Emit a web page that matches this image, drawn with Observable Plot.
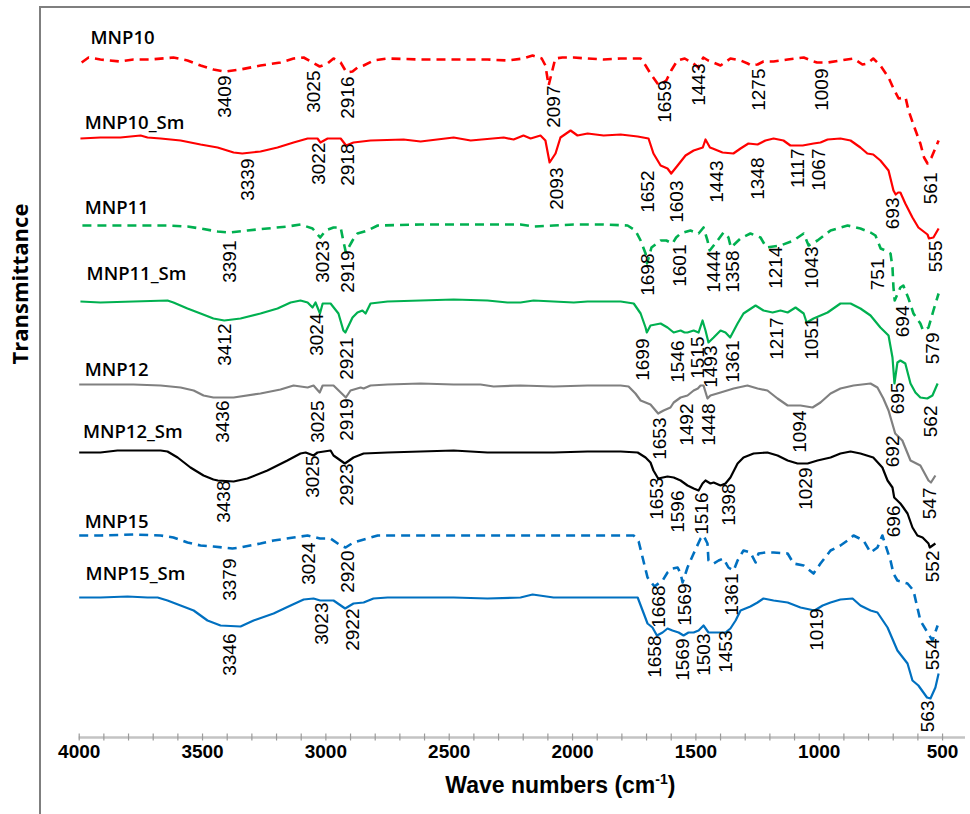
<!DOCTYPE html>
<html>
<head>
<meta charset="utf-8">
<script src="https://cdn.jsdelivr.net/npm/d3@7"></script>
<script src="https://cdn.jsdelivr.net/npm/@observablehq/plot@0.6"></script>
<style>
  html, body { margin: 0; padding: 0; background: #fff; }
  #chart { position: relative; width: 970px; height: 814px; }
  #chart .border {
    position: absolute; left: 39px; top: 6px; right: 0; bottom: 0;
    border-left: 2px solid #7f7f7f; border-top: 2px solid #7f7f7f;
    pointer-events: none;
  }
  #chart svg { display: block; }
</style>
</head>
<body>
<div id="chart"><div class="border"></div></div>
<script>
// FTIR spectra, stacked with vertical offsets: [wavenumber (cm-1), transmittance (a.u.)]
const mnp10 = [[3990,675],[3962,680],[3914,678],[3833,676],[3780,678],[3711,678],[3618,680],[3561,677],[3508,672],[3456,668],[3409,666],[3346,668],[3265,672],[3184,675],[3131,679],[3090,680],[3054,675],[3025,671],[2993,674],[2969,679],[2940,675],[2916,665],[2892,666],[2872,670],[2847,672],[2807,677],[2750,679],[2616,678],[2482,678],[2345,678],[2264,677],[2199,679],[2162,682],[2125,679],[2110,672],[2097,652],[2085,664],[2070,679],[2041,680],[1995,680],[1939,679],[1874,678],[1805,679],[1724,679],[1704,672],[1684,664],[1650,652],[1620,657],[1600,667],[1575,677],[1545,679],[1510,674],[1490,670],[1470,680],[1450,677],[1430,675],[1400,672],[1360,679],[1319,677],[1290,674],[1275,672],[1250,673],[1226,676],[1185,676],[1128,678],[1063,680],[1023,676],[1009,675],[966,675],[914,677],[861,679],[825,673],[805,674],[781,679],[752,672],[719,660],[699,649],[678,639],[650,640],[638,627],[617,612],[590,594],[575,580],[561,574],[545,580],[516,597]];

const mnp10Sm = [[3995,599],[3914,600],[3833,600],[3751,602],[3723,600],[3670,599],[3589,597],[3508,593],[3439,590],[3374,585],[3339,584],[3265,586],[3196,590],[3131,595],[3074,599],[3034,599],[3022,595],[2993,599],[2940,599],[2918,592],[2888,595],[2819,597],[2685,598],[2616,596],[2482,600],[2413,597],[2279,600],[2239,598],[2199,602],[2170,599],[2130,602],[2110,597],[2093,575],[2069,584],[2049,600],[2008,607],[1980,602],[1939,604],[1874,602],[1805,603],[1736,601],[1692,599],[1672,584],[1643,572],[1615,569],[1600,564],[1574,572],[1542,582],[1509,587],[1472,590],[1461,598],[1443,590],[1432,589],[1392,585],[1348,584],[1319,589],[1287,594],[1250,593],[1218,597],[1185,599],[1145,597],[1117,592],[1067,592],[1023,594],[995,595],[966,598],[914,599],[873,597],[833,590],[805,584],[781,583],[752,577],[719,567],[699,547],[690,543],[680,545],[671,545],[651,534],[622,520],[598,510],[561,503],[555,499],[537,500],[516,509]];

const mnp11 = [[3987,512],[3914,512],[3780,512],[3642,512],[3561,511],[3508,509],[3439,506],[3391,505],[3318,507],[3237,509],[3156,511],[3103,513],[3054,509],[3023,500],[3001,507],[2969,510],[2940,510],[2932,500],[2919,485],[2892,497],[2872,504],[2831,507],[2790,512],[2616,513],[2345,513],[2211,513],[2158,511],[2077,512],[1995,513],[1874,513],[1777,512],[1745,507],[1724,497],[1704,484],[1698,474],[1680,490],[1643,497],[1620,497],[1595,494],[1580,500],[1562,504],[1522,507],[1489,504],[1469,510],[1453,497],[1444,487],[1412,497],[1388,505],[1368,500],[1358,490],[1319,499],[1279,504],[1238,500],[1214,490],[1157,492],[1104,497],[1063,504],[1043,492],[1007,497],[954,507],[885,512],[833,509],[792,505],[772,502],[751,489],[732,487],[711,484],[703,470],[699,450],[694,437],[671,450],[659,452],[638,439],[618,424],[590,414],[579,407],[557,410],[537,427],[516,444]];

const mnp11Sm = [[3995,436],[3914,435],[3780,436],[3642,437],[3618,435],[3561,429],[3508,424],[3456,419],[3412,417],[3346,419],[3265,424],[3196,429],[3143,435],[3103,437],[3074,435],[3054,430],[3042,435],[3024,424],[3013,434],[2981,434],[2949,424],[2929,407],[2921,405],[2892,420],[2872,425],[2852,427],[2839,424],[2819,434],[2750,436],[2616,437],[2482,438],[2345,437],[2264,435],[2211,435],[2158,437],[2077,436],[1995,435],[1939,436],[1805,436],[1752,434],[1724,424],[1704,410],[1699,405],[1684,412],[1643,414],[1615,410],[1590,405],[1562,407],[1546,405],[1534,405],[1509,407],[1489,405],[1473,417],[1461,407],[1449,395],[1428,400],[1400,407],[1380,405],[1361,400],[1331,414],[1307,424],[1258,432],[1226,427],[1189,425],[1157,427],[1128,425],[1096,430],[1063,424],[1051,415],[1023,419],[966,425],[914,434],[873,434],[833,429],[792,422],[752,410],[719,402],[703,380],[695,354],[683,375],[671,377],[651,374],[630,354],[610,345],[590,340],[562,339],[541,342],[520,354]];

const mnp12 = [[4000,353],[3914,353],[3780,353],[3670,352],[3589,350],[3536,347],[3496,342],[3456,340],[3436,340],[3374,340],[3265,344],[3184,348],[3131,352],[3074,350],[3050,352],[3025,345],[3013,352],[2969,352],[2919,340],[2900,347],[2859,350],[2847,349],[2819,352],[2750,353],[2616,354],[2482,353],[2373,353],[2320,351],[2211,352],[2077,351],[1939,352],[1805,352],[1773,351],[1745,344],[1724,337],[1704,335],[1684,333],[1653,324],[1631,327],[1603,330],[1590,335],[1562,340],[1534,342],[1509,347],[1492,349],[1481,352],[1469,352],[1453,339],[1441,342],[1400,345],[1347,349],[1291,352],[1250,349],[1210,347],[1169,339],[1128,332],[1094,332],[1076,332],[1027,330],[995,335],[954,344],[914,349],[861,352],[792,354],[764,350],[740,339],[719,327],[699,310],[692,304],[663,297],[630,277],[590,272],[557,257],[547,255],[529,262]];

const mnp12Sm = [[4000,285],[3914,285],[3845,287],[3751,287],[3670,287],[3642,286],[3601,280],[3549,270],[3496,262],[3456,258],[3438,257],[3374,256],[3318,259],[3237,267],[3156,277],[3103,284],[3082,285],[3050,282],[3034,285],[2981,287],[2969,282],[2923,274],[2888,280],[2847,284],[2750,285],[2616,286],[2482,287],[2345,285],[2211,285],[2077,285],[1939,286],[1805,286],[1736,285],[1704,280],[1684,275],[1672,267],[1653,259],[1615,261],[1590,260],[1562,257],[1534,252],[1509,249],[1489,247],[1473,254],[1461,257],[1441,254],[1428,255],[1400,252],[1380,254],[1360,260],[1331,274],[1307,280],[1266,284],[1210,285],[1169,282],[1128,277],[1088,274],[1047,274],[1007,277],[954,280],[914,284],[873,286],[833,284],[781,280],[744,270],[723,257],[703,250],[696,240],[671,234],[659,230],[642,224],[622,210],[602,202],[581,200],[557,194],[552,190],[529,194]];

const mnp15 = [[4000,202],[3914,202],[3780,203],[3670,202],[3618,200],[3561,195],[3508,192],[3456,191],[3379,189],[3346,190],[3265,194],[3212,197],[3131,200],[3074,202],[3024,199],[2981,199],[2940,192],[2920,190],[2888,195],[2831,199],[2790,202],[2616,202],[2345,202],[2077,202],[1805,202],[1752,202],[1732,196],[1716,180],[1696,160],[1668,151],[1635,157],[1615,165],[1595,169],[1574,170],[1562,164],[1554,155],[1534,170],[1509,184],[1481,199],[1469,202],[1453,194],[1449,177],[1428,174],[1408,177],[1388,179],[1368,170],[1347,167],[1331,177],[1307,187],[1279,185],[1258,175],[1246,184],[1218,185],[1185,185],[1128,184],[1104,174],[1063,172],[1023,164],[995,174],[954,187],[914,192],[885,197],[861,202],[820,197],[792,185],[764,190],[744,202],[711,177],[699,164],[683,157],[642,154],[618,147],[590,117],[561,105],[541,97],[520,112]];

const mnp15Sm = [[4000,140],[3914,140],[3804,141],[3723,140],[3682,140],[3642,137],[3589,132],[3536,127],[3480,117],[3427,112],[3346,111],[3293,117],[3212,124],[3143,132],[3090,138],[3050,139],[3023,137],[2969,137],[2922,129],[2888,134],[2847,135],[2807,139],[2750,140],[2616,140],[2482,140],[2345,139],[2211,140],[2162,143],[2077,140],[1939,140],[1805,140],[1736,140],[1716,127],[1696,114],[1676,110],[1658,102],[1635,105],[1615,109],[1595,107],[1570,105],[1550,102],[1530,105],[1509,105],[1489,107],[1469,112],[1449,105],[1412,105],[1380,105],[1360,109],[1339,117],[1319,127],[1279,131],[1250,135],[1226,139],[1185,137],[1128,135],[1076,130],[1019,127],[986,132],[954,135],[914,138],[865,139],[833,132],[792,127],[764,125],[723,110],[683,87],[642,74],[622,57],[598,52],[563,40],[549,39],[529,50],[516,64]];

const seriesNames = ["MNP10", "MNP10_Sm", "MNP11", "MNP11_Sm", "MNP12", "MNP12_Sm", "MNP15", "MNP15_Sm"];
const spectra = [mnp10, mnp10Sm, mnp11, mnp11Sm, mnp12, mnp12Sm, mnp15, mnp15Sm];

// Peak assignments: labelled wavenumber, and where its label sits (wavenumber, top of text)
const peakValues = {
  "MNP10":    [3409, 3025, 2916, 2097, 1659, 1443, 1275, 1009, 561],
  "MNP10_Sm": [3339, 3022, 2918, 2093, 1652, 1603, 1443, 1348, 1117, 1067, 693, 555],
  "MNP11":    [3391, 3023, 2919, 1698, 1601, 1444, 1358, 1214, 1043, 751, 694, 579],
  "MNP11_Sm": [3412, 3024, 2921, 1699, 1546, 1515, 1493, 1361, 1217, 1051, 695, 562],
  "MNP12":    [3436, 3025, 2919, 1653, 1492, 1448, 1094, 692, 547],
  "MNP12_Sm": [3438, 3025, 2923, 1653, 1596, 1516, 1398, 1029, 696, 552],
  "MNP15":    [3379, 3024, 2920, 1668, 1569, 1361, 554],
  "MNP15_Sm": [3346, 3023, 2922, 1658, 1569, 1503, 1453, 1019, 563]
};
const peakLabelAt = {
  "MNP10":    [3411, 3049, 2912, 2077, 1627, 1489, 1246, 990, 549],
  "MNP10_Sm": [3318, 3030, 2912, 2065, 1696, 1578, 1416, 1250, 1088, 1003, 703, 525],
  "MNP11":    [3390, 3013, 2912, 1696, 1566, 1428, 1351, 1176, 1031, 764, 659, 541],
  "MNP11_Sm": [3411, 3037, 2916, 1716, 1574, 1493, 1441, 1351, 1173, 1031, 683, 549],
  "MNP12":    [3419, 3034, 2916, 1647, 1538, 1449, 1080, 703, 553],
  "MNP12_Sm": [3415, 3054, 2916, 1659, 1574, 1477, 1368, 1055, 699, 541],
  "MNP15":    [3390, 3070, 2912, 1651, 1546, 1355, 541],
  "MNP15_Sm": [3390, 3017, 2892, 1667, 1554, 1469, 1380, 1011, 561]
};
const peakLabelTop = {
  "MNP10":    [662, 667, 661, 652, 657, 674, 669, 669, 565],
  "MNP10_Sm": [579, 595, 594, 570, 567, 557, 577, 580, 589, 589, 540, 497],
  "MNP11":    [497, 497, 487, 484, 493, 487, 487, 491, 491, 479, 432, 405],
  "MNP11_Sm": [414, 424, 400, 399, 397, 401, 392, 397, 420, 420, 355, 332],
  "MNP12":    [337, 337, 339, 320, 334, 334, 327, 302, 250],
  "MNP12_Sm": [257, 282, 274, 260, 247, 245, 254, 270, 232, 187],
  "MNP15":    [179, 195, 187, 152, 154, 164, 99],
  "MNP15_Sm": [104, 135, 129, 102, 99, 104, 107, 129, 37]
};

const tickLabels = [4000, 3500, 3000, 2500, 2000, 1500, 1000, 500];
const minorTicks = d3.range(4000, 499, -100);

// Styling and name-label placement for each trace
const seriesColor = ["#ff0000", "#ff0000", "#00b050", "#00b050", "#808080", "#000000", "#0070c0", "#0070c0"];
const seriesDashed = [true, false, true, false, false, false, true, false];
const nameAtX = [3954, 3978, 3978, 3970, 3978, 3985, 3978, 3974];
const nameAtY = [699, 614, 529, 463, 367, 305, 215, 163];

const nameLabels = seriesNames.map((name, i) => ({name, x: nameAtX[i], y: nameAtY[i]}));
const peakLabels = seriesNames.flatMap(name =>
  peakValues[name].map((peak, j) => ({name, peak, at: peakLabelAt[name][j], top: peakLabelTop[name][j]}))
);

const sans = "'Liberation Sans', Arial, Helvetica, sans-serif";
const titleFont = "'Open Sans', 'Liberation Sans', sans-serif";

const lineMarks = spectra.map((pts, i) =>
  Plot.line(pts, {
    x: d => d[0],
    y: d => d[1],
    stroke: seriesColor[i],
    strokeWidth: seriesDashed[i] ? 2.6 : 2.2,
    strokeDasharray: seriesDashed[i] ? "9,6" : null,
    strokeLinejoin: "round",
    strokeLinecap: "butt"
  })
);

const chart = Plot.plot({
  width: 970,
  height: 814,
  marginLeft: 78.7,
  marginRight: 5,
  marginTop: 7,
  marginBottom: 77,
  x: {type: "linear", domain: [4000, 407], axis: null},
  y: {type: "linear", domain: [0, 730], axis: null},
  style: {background: "transparent", fontFamily: sans, overflow: "visible"},
  marks: [
    // x axis line, minor ticks and tick labels
    Plot.ruleY([0], {x1: 4000, x2: 407, stroke: "#c3c3c3", strokeWidth: 2.6}),
    Plot.ruleX(minorTicks, {x: d => d, y1: -3.5, y2: 3.5, stroke: "#9a9a9a", strokeWidth: 1.2}),
    Plot.text(tickLabels, {
      x: d => d, y: 0, dy: 14, text: d => String(d),
      fontSize: 19, fontWeight: "bold", fontFamily: sans, fill: "#000", lineAnchor: "middle"
    }),
    ...lineMarks,
    // trace names
    Plot.text(nameLabels, {
      x: "x", y: "y", text: "name", textAnchor: "start", lineAnchor: "middle",
      fontSize: 18.5, fontWeight: 600, fontFamily: titleFont, fill: "#000"
    }),
    // peak wavenumbers
    Plot.text(peakLabels, {
      x: "at", y: "top", text: d => String(d.peak), rotate: -90,
      textAnchor: "end", lineAnchor: "middle", fontSize: 19, fontFamily: sans, fill: "#000"
    }),
    // axis titles
    Plot.text(["Transmittance"], {
      frameAnchor: "left", dx: -58.7, dy: -8, rotate: -90, text: d => d,
      lineAnchor: "middle", fontSize: 22, fontWeight: "bold", fontFamily: titleFont, fill: "#000"
    }),
    Plot.text(["Wave numbers (cm-1)"], {
      frameAnchor: "bottom", dx: 38, dy: 48, text: d => d,
      lineAnchor: "middle", fontSize: 23, fontWeight: "bold", fontFamily: sans, fill: "#000"
    })
  ]
});

// Render "-1" in the axis unit as a superscript
d3.select(chart).selectAll("text")
  .filter(function () { return this.textContent === "Wave numbers (cm-1)"; })
  .each(function () {
    const t = d3.select(this);
    t.text(null);
    t.append("tspan").text("Wave numbers (cm");
    t.append("tspan").attr("dy", -9).attr("font-size", 14).text("-1");
    t.append("tspan").attr("dy", 9).text(")");
  });

document.getElementById("chart").appendChild(chart);
</script>
</body>
</html>
